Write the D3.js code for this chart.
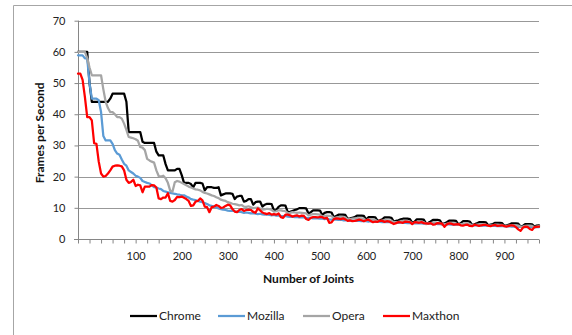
<!DOCTYPE html>
<html>
<head>
<meta charset="utf-8">
<script src="https://cdn.jsdelivr.net/npm/d3@7"></script>
<style>
  html, body { margin: 0; padding: 0; background: #fff; }
  svg { display: block; font-family: Lato, 'Open Sans', sans-serif; }
</style>
</head>
<body>
<svg id="chart" width="572" height="335"></svg>
<script>
// Sample positions (number of joints), every 5
const joints = d3.range(-25, 976, 5);

const chrome = [
  60,60,60,60,60, 50, 44,44,44,44,44,44,44,44, 45, 46.6,46.6,46.6,46.6,46.6,46.6, 44,
  34.3,34.3,34.3,34.3,34.3,34.3, 31.2,30.8,30.8,30.8,30.8,30.8, 28, 26.8,26.8,26.8, 24,
  22,22,22,22, 22.5,22.5, 20.5, 18,18,18,17.6, 16.6, 18,18,18,17.8, 15.6,
  16.6,16.6,16.6,16.4,16.4,16.6, 14, 14.3,14.6,14.6,14.6,14.5, 12.8,13.6,13.8,13.8,
  12,12.2,12.8,12.8, 11,11.8,12,12, 10.4,11,11.3,11.3,11.2, 9.2,9.3,10.3,10.8,10.8,10.7,
  8.6,8.7,9,9.3,9.5,9.9,9.9,9.9,9.8, 8.2,8.6,9.2,9.2,9.2,9.1, 7.6,8.4,8.6,8.6,8.5,
  7,7.4,7.8,7.8,7.8,7.7, 6.5,6.6,6.8,7,7.5,7.5,7.5,7.4, 6.2,7,7,7,6.9,
  5.8,6,6.3,6.9,6.9,6.9,6.8, 5.6,5.8,6,6.3,6.5,6.5,6.5,6.4, 5.2,5.5,6.3,6.3,6.3,6.2,
  5,5.2,5.6,6.1,6.1,6.1,6, 4.8,5,5.4,5.9,5.9,5.9,5.8, 4.7,5,5.7,5.7,5.7,5.6,
  4.5,4.7,5,5.4,5.4,5.4,5.3, 4.4,4.6,4.8,5.2,5.2,5.2,5.1, 4.2,4.4,4.6,5,5,5,4.9,
  4,4.2,4.8,4.8,4.8,4.7, 4,4.3,4.4
];

const mozilla = [
  58.9,58.9,58.9,57.9,57.9, 50, 45,45,45,44.5, 40.7, 33, 31.6,31.6,31.6, 30.5, 28.5,
  27.4,27,25.5,24.1,23.5,22,21.5,21,20.3,
  20,19.6,18.6,18.3,18,17.8,17.2,16.6,16.5,16.2,
  16,15.4,15.2,15,14.8,14.6,14.5,14.3,14.2,14,
  14,13.6,13.3,12.8,12.6,12.5,12.2,12,11.8,11.5,
  11.2,10.8,10.6,10.5,10.2,9.8,9.6,9.4,9.3,9.1,
  9,9.1,8.9,8.7,8.8,8.6,8.4,8.5,8.4,8.2,
  8.3,8.1,8,8.1,7.9,7.8,7.9,7.7,7.6,7.7,
  7.5,7.6,7.4,7.3,7.4,7.2,7.1,7.2,7,7.1,
  6.9,7,6.9,6.8,6.7,6.8,6.6,6.7,6.6,6.5,
  6.5,6.4,6.5,6.3,6.2,6.3,6.2,6.1,6.2,6,
  6,6.1,5.9,5.9,5.8,5.9,5.8,5.7,5.8,5.7,
  5.6,5.7,5.6,5.5,5.6,5.5,5.4,5.5,5.4,5.4,
  5.3,5.4,5.3,5.2,5.3,5.2,5.2,5.1,5.2,5.1,
  5,5.1,5,5,4.9,5,4.9,4.9,4.8,4.9,
  4.8,4.8,4.7,4.8,4.7,4.7,4.6,4.7,4.6,4.6,
  4.5,4.6,4.5,4.5,4.4,4.5,4.4,4.4,4.3,4.4,
  4.3,4.3,4.2,4.3,4.2,4.2,4.1,4.2,4.1,4.1,
  4,4.1,4,4,3.9,4,3.9,3.9,3.8,3.9,
  3.8,3.8,3.7,3.8,3.8
];

const opera = [
  60,60,60,60,58, 55, 52.5,52.5,52.5,52.5,52.5, 48, 44, 42, 40.7,40.7, 40, 39.1,39.1,
  38.6, 37, 35, 32.7,32.5,32.3,32,31.5, 29.5,29.3,28.5, 25.7,25.2,24.8,24.5, 22,
  20.2,20,20.3,19.5, 18, 15.5,15.2, 18.2,18.6,18.4,18,
  17.6,17.2,16.8,16.5,16.2,15.9,15.8,15.6,15.1,14.8,
  14.6,14.3,14,13.8,13.4,13.1,12.6,12.4,12.2,11.8,
  11.6,11.3,11.2,11,10.8,10.9,10.4,10.3,10.5,10.2,
  9.9,10,10.1,9.8,9.4,9.5,9.7,9.6,9.3,8.8,
  8.9,9.2,9.2,9,8.9,8.3,8.4,8.6,8.5,8.4,
  8.5,8.4,8.3,8.2,7.6,7.8,8,8,7.9,7.8,
  7.2,7.4,7.5,7.4,7.3,6.7,6.9,7,7.1,7,
  6.9,6.3,6.4,6.5,6.6,6.7,6.6,6.6,6.5,5.9,
  6.3,6.3,6.2,6.1,5.6,5.7,5.9,6.1,6,6,
  5.9,5.3,5.4,5.5,5.7,5.8,5.8,5.7,5.6,5,
  5.2,5.5,5.5,5.4,5.4,4.8,4.9,5.1,5.3,5.3,
  5.2,5.2,4.6,4.7,4.9,5.1,5.1,5,5,4.5,
  4.7,4.9,4.9,4.9,4.8,4.3,4.4,4.6,4.7,4.7,
  4.7,4.6,4.2,4.3,4.4,4.6,4.6,4.5,4.5,4.1,
  4.2,4.3,4.4,4.4,4.4,4.3,3.9,4,4.2,4.3,
  4.3,4.2,3.8,4,4.1
];

const maxthon = [
  53,53,51,45.5,39.1, 39.1,38,30.7,30.5,24.8,
  21,20,20.2,21,22,23.2,23.5,23.6,23.5,23.3,
  22,19,18,18.3,19,17,17.4,17.2,15,16.8,
  16.8,16.8,17.3,17.2,16.5,13,12.8,13.3,13.3,14.7,
  12.2,12,12.5,13.5,13.4,13.6,13.2,12.8,12.2,10.6,
  10.8,12,12.2,13,12.4,10.4,10.2,8.6,10.2,10.4,
  10.9,10.6,10,10.1,10.6,11,10.8,9.6,8.8,8.6,
  9.3,9.6,9,9.3,9.4,9.3,8.7,8.4,9.8,9.2,
  8.5,8.2,8,8.3,7.8,8,7.8,8.2,7,6.8,
  7.8,7.8,7.6,7.2,7.4,7.6,7.2,7.5,7.4,6.4,
  6.1,6.8,7,7,6.9,7.1,7,6.6,6.8,5.2,
  5.3,6.4,6.6,6.5,6.4,6.6,6.3,5.8,6,5.7,
  5.8,6,6.2,6,5.7,6,6.2,5.8,5.4,5.6,
  5.5,5.9,5.8,5.5,5.7,5.6,5.2,4.8,5.1,5.4,
  5.3,5.2,5.6,5.5,5.4,4.8,5.4,5.3,5.2,5.4,
  5.1,5,4.9,5.1,4.6,4.7,5.1,5,4.9,3.9,
  4.7,5,4.9,4.6,4.7,4.8,4.4,4.3,4.5,4.6,
  4.2,4.1,4.6,4.4,4.2,4.4,4.5,4.5,4.3,4.1,
  4.4,4.5,4.2,4.3,4.4,4.1,4,4.2,4.4,4.3,
  3.8,3.1,2.6,3.6,4,3.9,3.2,2.9,3.8,3.9,
  4
];

const seriesNames  = ['Chrome', 'Mozilla', 'Opera', 'Maxthon'];
const seriesValues = [chrome, mozilla, opera, maxthon];
const seriesColours = ['#000000', '#5b9bd5', '#a5a5a5', '#ff0000'];

const yTicks = [0, 10, 20, 30, 40, 50, 60, 70];
const xLabels = [100, 200, 300, 400, 500, 600, 700, 800, 900];
const xMinorTicks = d3.range(-25, 976, 25);

const svg = d3.select('#chart');

// Frame — left and top edges only
svg.append('path')
  .attr('d', 'M13.5,335V5.5H572')
  .attr('fill', 'none')
  .attr('stroke', '#a6a6a6')
  .attr('stroke-width', 1);

const x = d3.scaleLinear().domain([-25, 975]).range([78, 539]);
const y = d3.scaleLinear().domain([0, 70]).range([239, 20.7]);

// Gridlines
svg.append('g')
  .selectAll('line')
  .data(yTicks.filter(d => d > 0)).enter().append('line')
  .attr('x1', x(-25)).attr('x2', x(975))
  .attr('y1', d => Math.round(y(d)) + 0.5).attr('y2', d => Math.round(y(d)) + 0.5)
  .attr('stroke', '#989898').attr('stroke-width', 1);

// Y axis
const yAxis = svg.append('g')
  .attr('transform', `translate(${Math.round(x(-25)) + 0.5},0)`)
  .call(d3.axisLeft(y).tickValues(yTicks).tickSize(4).tickPadding(9));
yAxis.select('.domain').attr('stroke', '#868686').attr('d', `M0,${y(70)}V${y(0)}`);
yAxis.selectAll('.tick line').attr('stroke', '#868686');
yAxis.selectAll('.tick text')
  .attr('font-family', "Lato, 'Open Sans', sans-serif")
  .attr('font-size', '11px').attr('fill', '#222');

// X axis — minor ticks every 25, labels every 100
const xAxis = svg.append('g')
  .attr('transform', `translate(0,${Math.round(y(0)) + 0.5})`)
  .call(d3.axisBottom(x).tickValues(xMinorTicks).tickSize(4)
    .tickFormat(d => xLabels.includes(d) ? d : ''));
xAxis.select('.domain').attr('stroke', '#868686').attr('d', `M${x(-25) - 4},0H${x(975)}`);
xAxis.selectAll('.tick line').attr('stroke', '#868686');
xAxis.selectAll('.tick text')
  .attr('y', 13)
  .attr('font-family', "Lato, 'Open Sans', sans-serif")
  .attr('font-size', '11px').attr('fill', '#222');

// Lines — Chrome first, Maxthon on top
const line = d3.line()
  .x((d, i) => x(joints[i]))
  .y(d => y(d));

svg.append('g')
  .selectAll('path')
  .data(seriesValues).enter().append('path')
  .attr('d', d => line(d))
  .attr('fill', 'none')
  .attr('stroke', (d, i) => seriesColours[i])
  .attr('stroke-width', 2.25)
  .attr('stroke-linejoin', 'round')
  .attr('stroke-linecap', 'round');

// Axis titles
svg.append('text')
  .text('Number of Joints')
  .attr('x', (x(-25) + x(975)) / 2).attr('y', 283)
  .attr('text-anchor', 'middle')
  .attr('font-size', '12px').attr('font-weight', 'bold').attr('fill', '#111');

svg.append('text')
  .text('Frames per Second')
  .attr('transform', `translate(44,${(y(0) + y(70)) / 2 + 3}) rotate(-90)`)
  .attr('text-anchor', 'middle')
  .attr('font-size', '12px').attr('font-weight', 'bold').attr('fill', '#111');

// Legend
const legendX = [130, 218, 303, 383];
const legend = svg.append('g')
  .selectAll('g')
  .data(seriesNames).enter().append('g')
  .attr('transform', (d, i) => `translate(${legendX[i]},316)`);
legend.append('line')
  .attr('x1', 0).attr('x2', 27).attr('y1', 0).attr('y2', 0)
  .attr('stroke', (d, i) => seriesColours[i])
  .attr('stroke-width', 2.25);
legend.append('text')
  .text(d => d)
  .attr('x', 29).attr('y', 4)
  .attr('font-size', '12px').attr('fill', '#222');
</script>
</body>
</html>
